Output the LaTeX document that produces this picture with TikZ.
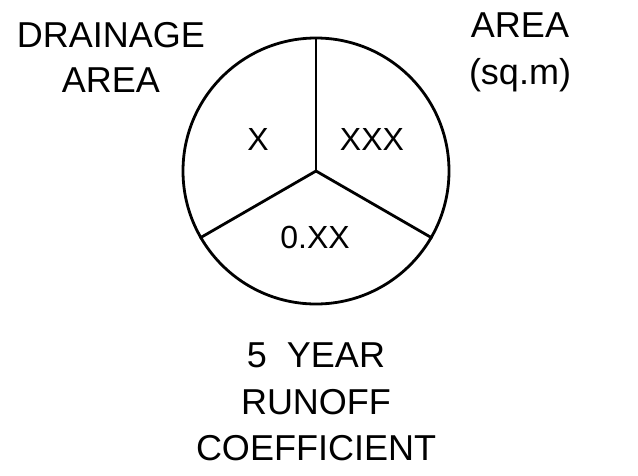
\documentclass[tikz,border=0pt]{standalone}
\usepackage{fontspec}
\setmainfont{Liberation Sans}
\begin{document}
\begin{tikzpicture}[
  x=1pt, y=-1pt,
  every node/.style={inner sep=0pt, anchor=base},
  label/.style={font=\fontsize{36}{42}\selectfont},
  cell/.style={font=\fontsize{32}{38}\selectfont}
]
\useasboundingbox (0,0) rectangle (638,475);
\node (dial) [circle, draw, line width=2.8pt, minimum size=266pt, anchor=center] at (316,171) {};
\draw[line width=2.8pt] (dial.center) -- (dial.90);
\draw[line width=2.8pt] (dial.center) -- (dial.210);
\draw[line width=2.8pt] (dial.center) -- (dial.330);
\node[cell] (id) at (258,150) {X};
\node[cell] (sqm) at (372,150) {XXX};
\node[cell] (coef) at (315,248) {0.XX};
\node[label] (dname) at (111,47) {DRAINAGE};
\node[label] (darea) at (111,92) {AREA};
\node[label] (aname) at (520,37) {AREA};
\node[label] (aunit) at (520,84) {(sq.m)};
\node[label] (rtop) at (316,367) {5\ \ YEAR};
\node[label] (rmid) at (316,414) {RUNOFF};
\node[label] (rbot) at (316,460) {COEFFICIENT};
\end{tikzpicture}
\end{document}
